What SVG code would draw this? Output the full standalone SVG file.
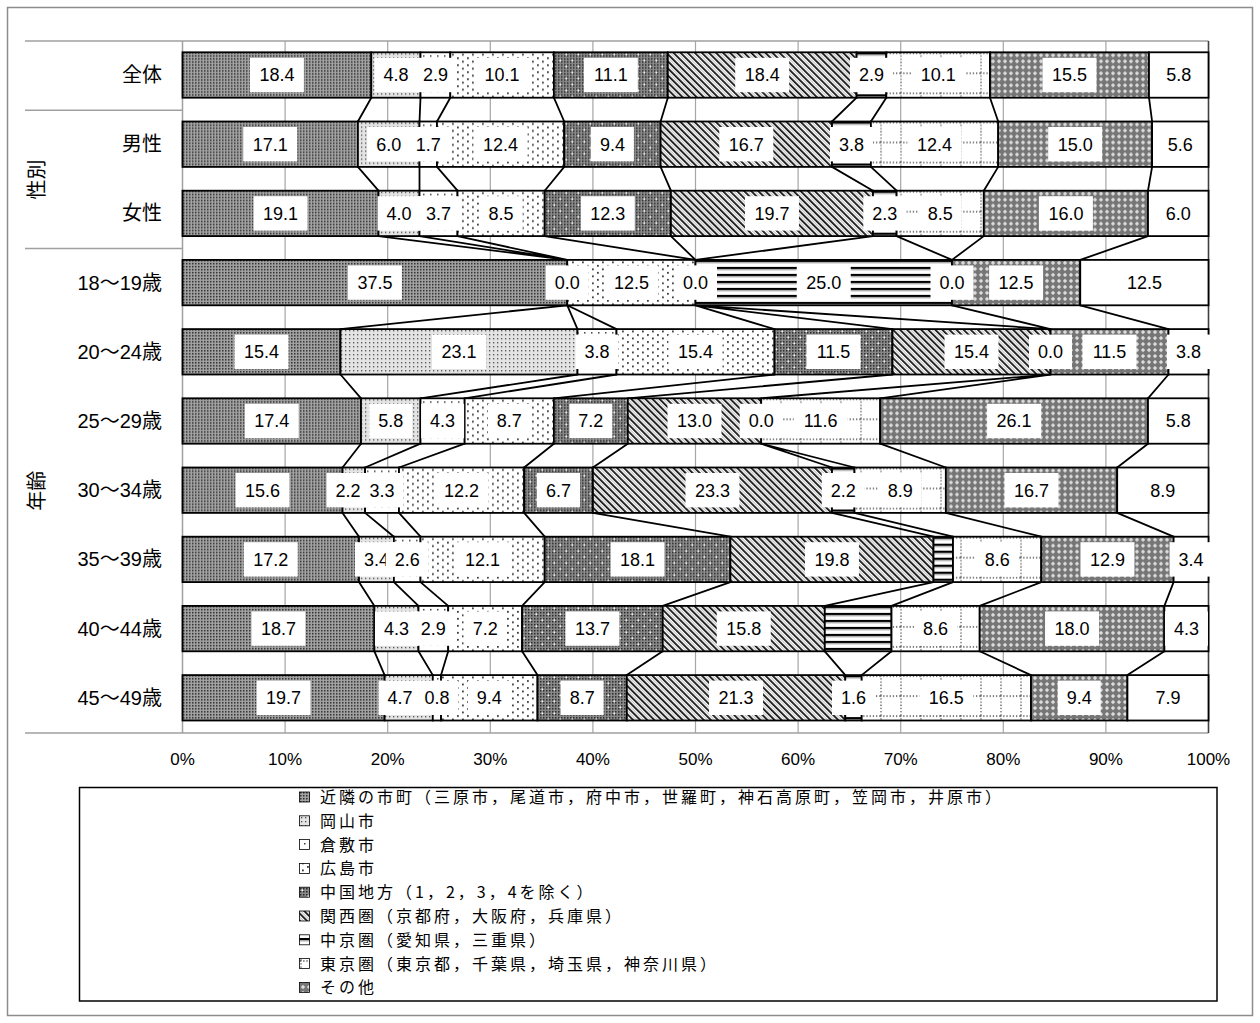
<svg xmlns="http://www.w3.org/2000/svg" width="1260" height="1023" viewBox="0 0 1260 1023">
<style>
.sg{stroke:#000;stroke-width:1.8}
.s1{fill:url(#p1)}.s2{fill:url(#p2)}.s3{fill:url(#p3)}.s4{fill:url(#p4)}.s5{fill:url(#p5)}
.s6{fill:url(#p6)}.s7{fill:url(#p7)}.s8{fill:url(#p8)}.s9{fill:url(#p9)}.s10{fill:#fff}
.lb{fill:#fff}
.v{font-family:"Liberation Sans","Noto Sans CJK JP",sans-serif;font-size:18px;text-anchor:middle;fill:#000}
.cat{font-family:"Liberation Sans","Noto Sans CJK JP",sans-serif;font-size:20px;text-anchor:end;fill:#000}
.grp{font-family:"Noto Sans CJK JP",sans-serif;font-size:20px;text-anchor:middle;fill:#000}
.ax{font-family:"Liberation Sans",sans-serif;font-size:17px;text-anchor:middle;fill:#000}
.lg{font-family:"Noto Sans CJK JP",sans-serif;font-size:16px;letter-spacing:3px;fill:#000}
.grid{stroke:#a6a6a6;stroke-width:1.2}
.sep{stroke:#a0a0a0;stroke-width:1.5}
.con{stroke:#000;stroke-width:1.8;fill:none}
.sym{stroke:#000;stroke-width:0.8}
</style>
<defs>
<pattern id="p1" width="3" height="3" patternUnits="userSpaceOnUse"><rect width="3" height="3" fill="#a2a2a2"/><rect width="1.5" height="1.5" fill="#2e2e2e"/></pattern>
<pattern id="p1d" width="3" height="3" patternUnits="userSpaceOnUse"><rect width="3" height="3" fill="#8a8a8a"/><rect width="1.5" height="1.5" fill="#262626"/></pattern>
<pattern id="p2" width="4" height="4" patternUnits="userSpaceOnUse"><rect width="4" height="4" fill="#e4e4e4"/><rect x="1" y="1" width="1.3" height="1.3" fill="#4a4a4a"/></pattern>
<pattern id="p3" width="7" height="7" patternUnits="userSpaceOnUse"><rect width="7" height="7" fill="#fff"/><rect x="3" y="3" width="1.5" height="1.5" fill="#3a3a3a"/></pattern>
<pattern id="p4" width="10" height="7" patternUnits="userSpaceOnUse"><rect width="10" height="7" fill="#fff"/><rect x="2" y="1.5" width="1.8" height="1.8" fill="#3a3a3a"/><rect x="7" y="5" width="1.8" height="1.8" fill="#3a3a3a"/></pattern>
<pattern id="p5" width="12" height="12" patternUnits="userSpaceOnUse"><rect width="12" height="12" fill="url(#p1d)"/><rect x="1.5" y="1.5" width="1.6" height="1.6" fill="#fff"/><rect x="7.5" y="7.5" width="1.6" height="1.6" fill="#fff"/></pattern>
<pattern id="p6" width="5" height="5" patternUnits="userSpaceOnUse" patternTransform="rotate(-45)"><rect width="5" height="5" fill="#fff"/><rect width="1.8" height="5" fill="#111"/><rect x="3.2" width="0.6" height="5" fill="#999"/></pattern>
<pattern id="p7" width="7" height="7" patternUnits="userSpaceOnUse"><rect width="7" height="7" fill="#fff"/><rect width="7" height="2.2" fill="#000"/><rect y="2.2" width="7" height="1.2" fill="#a0a0a0"/></pattern>
<pattern id="p8" width="20" height="20" patternUnits="userSpaceOnUse"><rect width="20" height="20" fill="#fff"/><path d="M0 1H20M1 0V20" stroke="#555" stroke-width="1.3" stroke-dasharray="1.3 1.9"/></pattern>
<pattern id="p9" width="6" height="6" patternUnits="userSpaceOnUse"><rect width="6" height="6" fill="#767676"/><rect x="2.5" y="1" width="1" height="4" fill="#fff"/><rect x="1" y="2.5" width="4" height="1" fill="#fff"/></pattern>
</defs>

<rect x="7.5" y="7.5" width="1245" height="1008" fill="#fff" stroke="#8c8c8c" stroke-width="1.5"/>

<g id="plot-frame">
<path class="grid" d="M285.1 41V733M387.7 41V733M490.3 41V733M592.9 41V733M695.5 41V733M798.1 41V733M900.7 41V733M1003.3 41V733M1105.9 41V733"/>
<path class="sep" d="M25 41H1208.5M25 110.2H182.5M25 248.6H182.5M25 733H1208.5M182.5 41V733"/>
<path d="M1208.5 41V733" stroke="#404040" stroke-width="1.6"/>
</g>

<g id="category-labels">
<text class="cat" x="162" y="82">全体</text>
<text class="cat" x="162" y="151.2">男性</text>
<text class="cat" x="162" y="220.4">女性</text>
<text class="cat" x="162" y="289.6">18～19歳</text>
<text class="cat" x="162" y="358.8">20～24歳</text>
<text class="cat" x="162" y="428">25～29歳</text>
<text class="cat" x="162" y="497.2">30～34歳</text>
<text class="cat" x="162" y="566.4">35～39歳</text>
<text class="cat" x="162" y="635.6">40～44歳</text>
<text class="cat" x="162" y="704.8">45～49歳</text>
<text class="grp" transform="translate(37,179.4) rotate(-90)" y="7">性別</text>
<text class="grp" transform="translate(37,490.8) rotate(-90)" y="7">年齢</text>
</g>

<g id="axis-labels">
<text class="ax" x="182.5" y="765">0%</text>
<text class="ax" x="285.1" y="765">10%</text>
<text class="ax" x="387.7" y="765">20%</text>
<text class="ax" x="490.3" y="765">30%</text>
<text class="ax" x="592.9" y="765">40%</text>
<text class="ax" x="695.5" y="765">50%</text>
<text class="ax" x="798.1" y="765">60%</text>
<text class="ax" x="900.7" y="765">70%</text>
<text class="ax" x="1003.3" y="765">80%</text>
<text class="ax" x="1105.9" y="765">90%</text>
<text class="ax" x="1208.5" y="765">100%</text>
</g>

<g id="connectors">
<path class="con" d="M371.3 97.7L357.9 121.5M420.5 97.7L419.5 121.5M450.3 97.7L437 121.5M553.9 97.7L564.2 121.5M667.8 97.7L660.6 121.5M856.6 97.7L832 121.5M886.3 97.7L870.9 121.5M990 97.7L998.2 121.5M1149 97.7L1152.1 121.5"/>
<path class="con" d="M357.9 166.9L378.5 190.7M419.5 166.9L419.5 190.7M437 166.9L457.5 190.7M564.2 166.9L544.7 190.7M660.6 166.9L670.9 190.7M832 166.9L873 190.7M870.9 166.9L896.6 190.7M998.2 166.9L983.8 190.7M1152.1 166.9L1148 190.7"/>
<path class="con" d="M378.5 236.1L567.25 259.9M419.5 236.1L567.25 259.9M457.5 236.1L567.25 259.9M544.7 236.1L695.5 259.9M670.9 236.1L695.5 259.9M873 236.1L695.5 259.9M896.6 236.1L952 259.9M983.8 236.1L952 259.9M1148 236.1L1080.25 259.9"/>
<path class="con" d="M567.25 305.3L340.5 329.1M567.25 305.3L577.5 329.1M567.25 305.3L616.5 329.1M695.5 305.3L774.5 329.1M695.5 305.3L892.5 329.1M695.5 305.3L1050.5 329.1M952 305.3L1050.5 329.1M1080.25 305.3L1168.5 329.1"/>
<path class="con" d="M340.5 374.5L361 398.3M577.5 374.5L420.5 398.3M616.5 374.5L464.65 398.3M774.5 374.5L553.9 398.3M892.5 374.5L627.8 398.3M1050.5 374.5L761.2 398.3M1050.5 374.5L880.2 398.3M1168.5 374.5L1148 398.3"/>
<path class="con" d="M361 443.7L342.55 467.5M420.5 443.7L365.1 467.5M464.65 443.7L399 467.5M553.9 443.7L524.15 467.5M627.8 443.7L592.9 467.5M761.2 443.7L832 467.5M761.2 443.7L854.5 467.5M880.2 443.7L945.85 467.5M1148 443.7L1117.2 467.5"/>
<path class="con" d="M342.55 512.9L359 536.7M365.1 512.9L393.9 536.7M399 512.9L420.5 536.7M524.15 512.9L544.7 536.7M592.9 512.9L730.4 536.7M832 512.9L933.5 536.7M854.5 512.9L953 536.7M945.85 512.9L1041.3 536.7M1117.2 512.9L1173.6 536.7"/>
<path class="con" d="M359 582.1L374.4 605.9M393.9 582.1L418.5 605.9M420.5 582.1L448.2 605.9M544.7 582.1L522.1 605.9M730.4 582.1L662.7 605.9M933.5 582.1L824.8 605.9M953 582.1L891.5 605.9M1041.3 582.1L979.7 605.9M1173.6 582.1L1164.4 605.9"/>
<path class="con" d="M374.4 651.3L384.6 675.1M418.5 651.3L432.8 675.1M448.2 651.3L441.05 675.1M522.1 651.3L537.5 675.1M662.7 651.3L626.8 675.1M824.8 651.3L845.3 675.1M891.5 651.3L861.7 675.1M979.7 651.3L1031 675.1M1164.4 651.3L1127.45 675.1"/>
</g>

<g id="bar-zentai" transform="translate(0,52.3)">
<rect class="sg s1" x="182.5" width="188.8" height="45.4"/>
<rect class="sg s2" x="371.3" width="49.2" height="45.4"/>
<rect class="sg s3" x="420.5" width="29.8" height="45.4"/>
<rect class="sg s4" x="450.3" width="103.6" height="45.4"/>
<rect class="sg s5" x="553.9" width="113.9" height="45.4"/>
<rect class="sg s6" x="667.8" width="188.8" height="45.4"/>
<rect class="sg s7" x="856.6" width="29.7" height="45.4"/>
<rect class="sg s8" x="886.3" width="103.7" height="45.4"/>
<rect class="sg s9" x="990" width="159" height="45.4"/>
<rect class="sg s10" x="1149" width="59.5" height="45.4"/>
<rect class="lb" x="249.9" y="5.5" width="54" height="34.4"/><text class="v" x="276.9" y="29.2">18.4</text>
<rect class="lb" x="374.4" y="5.5" width="43" height="34.4"/><text class="v" x="395.9" y="29.2">4.8</text>
<rect class="lb" x="413.9" y="5.5" width="43" height="34.4"/><text class="v" x="435.4" y="29.2">2.9</text>
<rect class="lb" x="475.1" y="5.5" width="54" height="34.4"/><text class="v" x="502.1" y="29.2">10.1</text>
<rect class="lb" x="583.85" y="5.5" width="54" height="34.4"/><text class="v" x="610.85" y="29.2">11.1</text>
<rect class="lb" x="735.2" y="5.5" width="54" height="34.4"/><text class="v" x="762.2" y="29.2">18.4</text>
<rect class="lb" x="849.95" y="5.5" width="43" height="34.4"/><text class="v" x="871.45" y="29.2">2.9</text>
<rect class="lb" x="911.15" y="5.5" width="54" height="34.4"/><text class="v" x="938.15" y="29.2">10.1</text>
<rect class="lb" x="1042.5" y="5.5" width="54" height="34.4"/><text class="v" x="1069.5" y="29.2">15.5</text>
<rect class="lb" x="1157.25" y="5.5" width="43" height="34.4"/><text class="v" x="1178.75" y="29.2">5.8</text>
</g>

<g id="bar-male" transform="translate(0,121.5)">
<rect class="sg s1" x="182.5" width="175.4" height="45.4"/>
<rect class="sg s2" x="357.9" width="61.6" height="45.4"/>
<rect class="sg s3" x="419.5" width="17.5" height="45.4"/>
<rect class="sg s4" x="437" width="127.2" height="45.4"/>
<rect class="sg s5" x="564.2" width="96.4" height="45.4"/>
<rect class="sg s6" x="660.6" width="171.4" height="45.4"/>
<rect class="sg s7" x="832" width="38.9" height="45.4"/>
<rect class="sg s8" x="870.9" width="127.3" height="45.4"/>
<rect class="sg s9" x="998.2" width="153.9" height="45.4"/>
<rect class="sg s10" x="1152.1" width="56.4" height="45.4"/>
<rect class="lb" x="243.2" y="5.5" width="54" height="34.4"/><text class="v" x="270.2" y="29.2">17.1</text>
<rect class="lb" x="367.2" y="5.5" width="43" height="34.4"/><text class="v" x="388.7" y="29.2">6.0</text>
<rect class="lb" x="406.75" y="5.5" width="43" height="34.4"/><text class="v" x="428.25" y="29.2">1.7</text>
<rect class="lb" x="473.6" y="5.5" width="54" height="34.4"/><text class="v" x="500.6" y="29.2">12.4</text>
<rect class="lb" x="590.9" y="5.5" width="43" height="34.4"/><text class="v" x="612.4" y="29.2">9.4</text>
<rect class="lb" x="719.3" y="5.5" width="54" height="34.4"/><text class="v" x="746.3" y="29.2">16.7</text>
<rect class="lb" x="829.95" y="5.5" width="43" height="34.4"/><text class="v" x="851.45" y="29.2">3.8</text>
<rect class="lb" x="907.55" y="5.5" width="54" height="34.4"/><text class="v" x="934.55" y="29.2">12.4</text>
<rect class="lb" x="1048.15" y="5.5" width="54" height="34.4"/><text class="v" x="1075.15" y="29.2">15.0</text>
<rect class="lb" x="1158.8" y="5.5" width="43" height="34.4"/><text class="v" x="1180.3" y="29.2">5.6</text>
</g>

<g id="bar-female" transform="translate(0,190.7)">
<rect class="sg s1" x="182.5" width="196" height="45.4"/>
<rect class="sg s2" x="378.5" width="41" height="45.4"/>
<rect class="sg s3" x="419.5" width="38" height="45.4"/>
<rect class="sg s4" x="457.5" width="87.2" height="45.4"/>
<rect class="sg s5" x="544.7" width="126.2" height="45.4"/>
<rect class="sg s6" x="670.9" width="202.1" height="45.4"/>
<rect class="sg s7" x="873" width="23.6" height="45.4"/>
<rect class="sg s8" x="896.6" width="87.2" height="45.4"/>
<rect class="sg s9" x="983.8" width="164.2" height="45.4"/>
<rect class="sg s10" x="1148" width="60.5" height="45.4"/>
<rect class="lb" x="253.5" y="5.5" width="54" height="34.4"/><text class="v" x="280.5" y="29.2">19.1</text>
<rect class="lb" x="377.5" y="5.5" width="43" height="34.4"/><text class="v" x="399" y="29.2">4.0</text>
<rect class="lb" x="417" y="5.5" width="43" height="34.4"/><text class="v" x="438.5" y="29.2">3.7</text>
<rect class="lb" x="479.6" y="5.5" width="43" height="34.4"/><text class="v" x="501.1" y="29.2">8.5</text>
<rect class="lb" x="580.8" y="5.5" width="54" height="34.4"/><text class="v" x="607.8" y="29.2">12.3</text>
<rect class="lb" x="744.95" y="5.5" width="54" height="34.4"/><text class="v" x="771.95" y="29.2">19.7</text>
<rect class="lb" x="863.3" y="5.5" width="43" height="34.4"/><text class="v" x="884.8" y="29.2">2.3</text>
<rect class="lb" x="918.7" y="5.5" width="43" height="34.4"/><text class="v" x="940.2" y="29.2">8.5</text>
<rect class="lb" x="1038.9" y="5.5" width="54" height="34.4"/><text class="v" x="1065.9" y="29.2">16.0</text>
<rect class="lb" x="1156.75" y="5.5" width="43" height="34.4"/><text class="v" x="1178.25" y="29.2">6.0</text>
</g>

<g id="bar-18-19" transform="translate(0,259.9)">
<rect class="sg s1" x="182.5" width="384.75" height="45.4"/>
<rect class="sg s4" x="567.25" width="128.25" height="45.4"/>
<rect class="sg s7" x="695.5" width="256.5" height="45.4"/>
<rect class="sg s9" x="952" width="128.25" height="45.4"/>
<rect class="sg s10" x="1080.25" width="128.25" height="45.4"/>
<rect class="lb" x="347.9" y="5.5" width="54" height="34.4"/><text class="v" x="374.9" y="29.2">37.5</text>
<rect class="lb" x="545.75" y="5.5" width="43" height="34.4"/><text class="v" x="567.25" y="29.2">0.0</text>
<rect class="lb" x="604.4" y="5.5" width="54" height="34.4"/><text class="v" x="631.4" y="29.2">12.5</text>
<rect class="lb" x="674" y="5.5" width="43" height="34.4"/><text class="v" x="695.5" y="29.2">0.0</text>
<rect class="lb" x="796.75" y="5.5" width="54" height="34.4"/><text class="v" x="823.75" y="29.2">25.0</text>
<rect class="lb" x="930.5" y="5.5" width="43" height="34.4"/><text class="v" x="952" y="29.2">0.0</text>
<rect class="lb" x="989.1" y="5.5" width="54" height="34.4"/><text class="v" x="1016.1" y="29.2">12.5</text>
<rect class="lb" x="1117.4" y="5.5" width="54" height="34.4"/><text class="v" x="1144.4" y="29.2">12.5</text>
</g>

<g id="bar-20-24" transform="translate(0,329.1)">
<rect class="sg s1" x="182.5" width="158" height="45.4"/>
<rect class="sg s2" x="340.5" width="237" height="45.4"/>
<rect class="sg s3" x="577.5" width="39" height="45.4"/>
<rect class="sg s4" x="616.5" width="158" height="45.4"/>
<rect class="sg s5" x="774.5" width="118" height="45.4"/>
<rect class="sg s6" x="892.5" width="158" height="45.4"/>
<rect class="sg s9" x="1050.5" width="118" height="45.4"/>
<rect class="sg s10" x="1168.5" width="40" height="45.4"/>
<rect class="lb" x="234.5" y="5.5" width="54" height="34.4"/><text class="v" x="261.5" y="29.2">15.4</text>
<rect class="lb" x="432" y="5.5" width="54" height="34.4"/><text class="v" x="459" y="29.2">23.1</text>
<rect class="lb" x="575.5" y="5.5" width="43" height="34.4"/><text class="v" x="597" y="29.2">3.8</text>
<rect class="lb" x="668.5" y="5.5" width="54" height="34.4"/><text class="v" x="695.5" y="29.2">15.4</text>
<rect class="lb" x="806.5" y="5.5" width="54" height="34.4"/><text class="v" x="833.5" y="29.2">11.5</text>
<rect class="lb" x="944.5" y="5.5" width="54" height="34.4"/><text class="v" x="971.5" y="29.2">15.4</text>
<rect class="lb" x="1029" y="5.5" width="43" height="34.4"/><text class="v" x="1050.5" y="29.2">0.0</text>
<rect class="lb" x="1082.5" y="5.5" width="54" height="34.4"/><text class="v" x="1109.5" y="29.2">11.5</text>
<rect class="lb" x="1167" y="5.5" width="43" height="34.4"/><text class="v" x="1188.5" y="29.2">3.8</text>
</g>

<g id="bar-25-29" transform="translate(0,398.3)">
<rect class="sg s1" x="182.5" width="178.5" height="45.4"/>
<rect class="sg s2" x="361" width="59.5" height="45.4"/>
<rect class="sg s3" x="420.5" width="44.15" height="45.4"/>
<rect class="sg s4" x="464.65" width="89.25" height="45.4"/>
<rect class="sg s5" x="553.9" width="73.9" height="45.4"/>
<rect class="sg s6" x="627.8" width="133.4" height="45.4"/>
<rect class="sg s8" x="761.2" width="119" height="45.4"/>
<rect class="sg s9" x="880.2" width="267.8" height="45.4"/>
<rect class="sg s10" x="1148" width="60.5" height="45.4"/>
<rect class="lb" x="244.75" y="5.5" width="54" height="34.4"/><text class="v" x="271.75" y="29.2">17.4</text>
<rect class="lb" x="369.25" y="5.5" width="43" height="34.4"/><text class="v" x="390.75" y="29.2">5.8</text>
<rect class="lb" x="421.1" y="5.5" width="43" height="34.4"/><text class="v" x="442.6" y="29.2">4.3</text>
<rect class="lb" x="487.8" y="5.5" width="43" height="34.4"/><text class="v" x="509.3" y="29.2">8.7</text>
<rect class="lb" x="569.35" y="5.5" width="43" height="34.4"/><text class="v" x="590.85" y="29.2">7.2</text>
<rect class="lb" x="667.5" y="5.5" width="54" height="34.4"/><text class="v" x="694.5" y="29.2">13.0</text>
<rect class="lb" x="739.7" y="5.5" width="43" height="34.4"/><text class="v" x="761.2" y="29.2">0.0</text>
<rect class="lb" x="793.7" y="5.5" width="54" height="34.4"/><text class="v" x="820.7" y="29.2">11.6</text>
<rect class="lb" x="987.1" y="5.5" width="54" height="34.4"/><text class="v" x="1014.1" y="29.2">26.1</text>
<rect class="lb" x="1156.75" y="5.5" width="43" height="34.4"/><text class="v" x="1178.25" y="29.2">5.8</text>
</g>

<g id="bar-30-34" transform="translate(0,467.5)">
<rect class="sg s1" x="182.5" width="160.05" height="45.4"/>
<rect class="sg s2" x="342.55" width="22.55" height="45.4"/>
<rect class="sg s3" x="365.1" width="33.9" height="45.4"/>
<rect class="sg s4" x="399" width="125.15" height="45.4"/>
<rect class="sg s5" x="524.15" width="68.75" height="45.4"/>
<rect class="sg s6" x="592.9" width="239.1" height="45.4"/>
<rect class="sg s7" x="832" width="22.5" height="45.4"/>
<rect class="sg s8" x="854.5" width="91.35" height="45.4"/>
<rect class="sg s9" x="945.85" width="171.35" height="45.4"/>
<rect class="sg s10" x="1117.2" width="91.3" height="45.4"/>
<rect class="lb" x="235.5" y="5.5" width="54" height="34.4"/><text class="v" x="262.5" y="29.2">15.6</text>
<rect class="lb" x="326.5" y="5.5" width="43" height="34.4"/><text class="v" x="348" y="29.2">2.2</text>
<rect class="lb" x="360.55" y="5.5" width="43" height="34.4"/><text class="v" x="382.05" y="29.2">3.3</text>
<rect class="lb" x="434.6" y="5.5" width="54" height="34.4"/><text class="v" x="461.6" y="29.2">12.2</text>
<rect class="lb" x="537" y="5.5" width="43" height="34.4"/><text class="v" x="558.5" y="29.2">6.7</text>
<rect class="lb" x="685.45" y="5.5" width="54" height="34.4"/><text class="v" x="712.45" y="29.2">23.3</text>
<rect class="lb" x="821.75" y="5.5" width="43" height="34.4"/><text class="v" x="843.25" y="29.2">2.2</text>
<rect class="lb" x="878.7" y="5.5" width="43" height="34.4"/><text class="v" x="900.2" y="29.2">8.9</text>
<rect class="lb" x="1004.5" y="5.5" width="54" height="34.4"/><text class="v" x="1031.5" y="29.2">16.7</text>
<rect class="lb" x="1141.35" y="5.5" width="43" height="34.4"/><text class="v" x="1162.85" y="29.2">8.9</text>
</g>

<g id="bar-35-39" transform="translate(0,536.7)">
<rect class="sg s1" x="182.5" width="176.5" height="45.4"/>
<rect class="sg s2" x="359" width="34.9" height="45.4"/>
<rect class="sg s3" x="393.9" width="26.6" height="45.4"/>
<rect class="sg s4" x="420.5" width="124.2" height="45.4"/>
<rect class="sg s5" x="544.7" width="185.7" height="45.4"/>
<rect class="sg s6" x="730.4" width="203.1" height="45.4"/>
<rect class="sg s7" x="933.5" width="19.5" height="45.4"/>
<rect class="sg s8" x="953" width="88.3" height="45.4"/>
<rect class="sg s9" x="1041.3" width="132.3" height="45.4"/>
<rect class="sg s10" x="1173.6" width="34.9" height="45.4"/>
<rect class="lb" x="243.75" y="5.5" width="54" height="34.4"/><text class="v" x="270.75" y="29.2">17.2</text>
<rect class="lb" x="354.95" y="5.5" width="43" height="34.4"/><text class="v" x="376.45" y="29.2">3.4</text>
<rect class="lb" x="385.7" y="5.5" width="43" height="34.4"/><text class="v" x="407.2" y="29.2">2.6</text>
<rect class="lb" x="455.6" y="5.5" width="54" height="34.4"/><text class="v" x="482.6" y="29.2">12.1</text>
<rect class="lb" x="610.55" y="5.5" width="54" height="34.4"/><text class="v" x="637.55" y="29.2">18.1</text>
<rect class="lb" x="804.95" y="5.5" width="54" height="34.4"/><text class="v" x="831.95" y="29.2">19.8</text>
<rect class="lb" x="975.65" y="5.5" width="43" height="34.4"/><text class="v" x="997.15" y="29.2">8.6</text>
<rect class="lb" x="1080.45" y="5.5" width="54" height="34.4"/><text class="v" x="1107.45" y="29.2">12.9</text>
<rect class="lb" x="1169.55" y="5.5" width="43" height="34.4"/><text class="v" x="1191.05" y="29.2">3.4</text>
</g>

<g id="bar-40-44" transform="translate(0,605.9)">
<rect class="sg s1" x="182.5" width="191.9" height="45.4"/>
<rect class="sg s2" x="374.4" width="44.1" height="45.4"/>
<rect class="sg s3" x="418.5" width="29.7" height="45.4"/>
<rect class="sg s4" x="448.2" width="73.9" height="45.4"/>
<rect class="sg s5" x="522.1" width="140.6" height="45.4"/>
<rect class="sg s6" x="662.7" width="162.1" height="45.4"/>
<rect class="sg s7" x="824.8" width="66.7" height="45.4"/>
<rect class="sg s8" x="891.5" width="88.2" height="45.4"/>
<rect class="sg s9" x="979.7" width="184.7" height="45.4"/>
<rect class="sg s10" x="1164.4" width="44.1" height="45.4"/>
<rect class="lb" x="251.45" y="5.5" width="54" height="34.4"/><text class="v" x="278.45" y="29.2">18.7</text>
<rect class="lb" x="374.95" y="5.5" width="43" height="34.4"/><text class="v" x="396.45" y="29.2">4.3</text>
<rect class="lb" x="411.85" y="5.5" width="43" height="34.4"/><text class="v" x="433.35" y="29.2">2.9</text>
<rect class="lb" x="463.65" y="5.5" width="43" height="34.4"/><text class="v" x="485.15" y="29.2">7.2</text>
<rect class="lb" x="565.4" y="5.5" width="54" height="34.4"/><text class="v" x="592.4" y="29.2">13.7</text>
<rect class="lb" x="716.75" y="5.5" width="54" height="34.4"/><text class="v" x="743.75" y="29.2">15.8</text>
<rect class="lb" x="914.1" y="5.5" width="43" height="34.4"/><text class="v" x="935.6" y="29.2">8.6</text>
<rect class="lb" x="1045.05" y="5.5" width="54" height="34.4"/><text class="v" x="1072.05" y="29.2">18.0</text>
<rect class="lb" x="1164.95" y="5.5" width="43" height="34.4"/><text class="v" x="1186.45" y="29.2">4.3</text>
</g>

<g id="bar-45-49" transform="translate(0,675.1)">
<rect class="sg s1" x="182.5" width="202.1" height="45.4"/>
<rect class="sg s2" x="384.6" width="48.2" height="45.4"/>
<rect class="sg s3" x="432.8" width="8.25" height="45.4"/>
<rect class="sg s4" x="441.05" width="96.45" height="45.4"/>
<rect class="sg s5" x="537.5" width="89.3" height="45.4"/>
<rect class="sg s6" x="626.8" width="218.5" height="45.4"/>
<rect class="sg s7" x="845.3" width="16.4" height="45.4"/>
<rect class="sg s8" x="861.7" width="169.3" height="45.4"/>
<rect class="sg s9" x="1031" width="96.45" height="45.4"/>
<rect class="sg s10" x="1127.45" width="81.05" height="45.4"/>
<rect class="lb" x="256.55" y="5.5" width="54" height="34.4"/><text class="v" x="283.55" y="29.2">19.7</text>
<rect class="lb" x="378.5" y="5.5" width="43" height="34.4"/><text class="v" x="400" y="29.2">4.7</text>
<rect class="lb" x="415.4" y="5.5" width="43" height="34.4"/><text class="v" x="436.9" y="29.2">0.8</text>
<rect class="lb" x="467.8" y="5.5" width="43" height="34.4"/><text class="v" x="489.3" y="29.2">9.4</text>
<rect class="lb" x="560.65" y="5.5" width="43" height="34.4"/><text class="v" x="582.15" y="29.2">8.7</text>
<rect class="lb" x="709.05" y="5.5" width="54" height="34.4"/><text class="v" x="736.05" y="29.2">21.3</text>
<rect class="lb" x="832" y="5.5" width="43" height="34.4"/><text class="v" x="853.5" y="29.2">1.6</text>
<rect class="lb" x="919.35" y="5.5" width="54" height="34.4"/><text class="v" x="946.35" y="29.2">16.5</text>
<rect class="lb" x="1057.7" y="5.5" width="43" height="34.4"/><text class="v" x="1079.2" y="29.2">9.4</text>
<rect class="lb" x="1146.5" y="5.5" width="43" height="34.4"/><text class="v" x="1168" y="29.2">7.9</text>
</g>

<g id="legend">
<rect x="79.5" y="787.5" width="1137.5" height="213.5" fill="#fff"/>
<rect class="sym s1" x="299.5" y="792" width="10" height="10"/>
<text class="lg" x="320" y="803">近隣の市町（三原市，尾道市，府中市，世羅町，神石高原町，笠岡市，井原市）</text>
<rect class="sym s2" x="299.5" y="815.8" width="10" height="10"/>
<text class="lg" x="320" y="826.8">岡山市</text>
<rect class="sym s3" x="299.5" y="839.6" width="10" height="10"/>
<text class="lg" x="320" y="850.6">倉敷市</text>
<rect class="sym s4" x="299.5" y="863.4" width="10" height="10"/>
<text class="lg" x="320" y="874.4">広島市</text>
<rect class="sym s5" x="299.5" y="887.2" width="10" height="10"/>
<text class="lg" x="320" y="898.2">中国地方（1，2，3，4を除く）</text>
<rect class="sym s6" x="299.5" y="911" width="10" height="10"/>
<text class="lg" x="320" y="922">関西圏（京都府，大阪府，兵庫県）</text>
<rect class="sym s7" x="299.5" y="934.8" width="10" height="10"/>
<text class="lg" x="320" y="945.8">中京圏（愛知県，三重県）</text>
<rect class="sym s8" x="299.5" y="958.6" width="10" height="10"/>
<text class="lg" x="320" y="969.6">東京圏（東京都，千葉県，埼玉県，神奈川県）</text>
<rect class="sym s9" x="299.5" y="982.4" width="10" height="10"/>
<text class="lg" x="320" y="993.4">その他</text>
<rect x="79.5" y="787.5" width="1137.5" height="213.5" fill="none" stroke="#000" stroke-width="1.5"/>
</g>
</svg>
